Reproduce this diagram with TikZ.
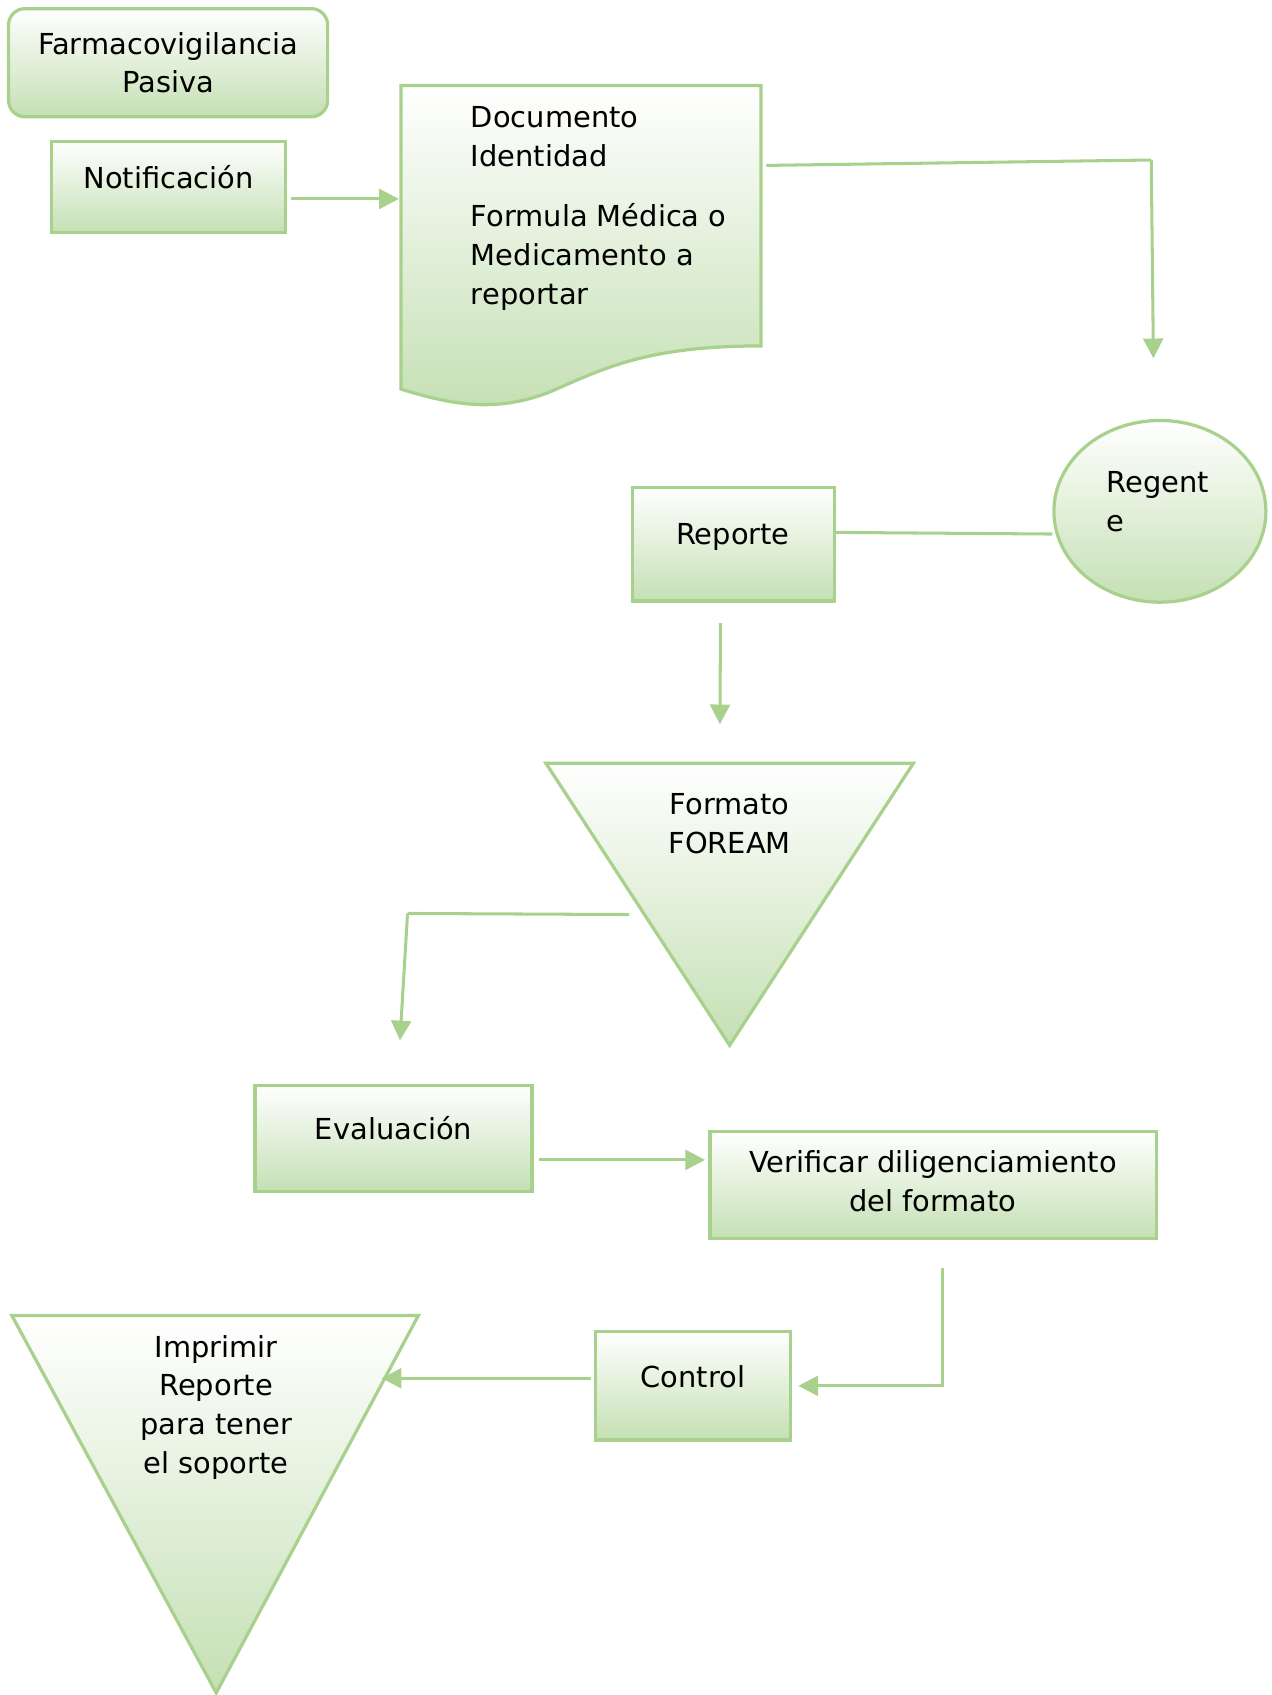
\documentclass[tikz,border=0pt]{standalone}
\usepackage{fontspec}
\setmainfont{DejaVu Sans}
\usetikzlibrary{positioning}
\usetikzlibrary{shapes.geometric, arrows.meta, positioning}
\definecolor{gline}{HTML}{A9D18E}
\definecolor{gfill}{HTML}{C5E0B4}
\tikzstyle{box} = [draw=gline, line width=0.85pt, top color=white, bottom color=gfill, inner sep=0pt]
\tikzstyle{arrow} = [draw=gline, line width=0.8pt, -{Triangle[length=5.2pt,width=5.2pt]}]
\tikzstyle{line} = [draw=gline, line width=0.8pt]
\tikzstyle{txt} = [align=center, inner sep=0pt, font=\fontsize{7.6}{10.24}\selectfont]

\begin{document}
\begin{tikzpicture}[x=0.01cm, y=-0.01cm]
    \useasboundingbox (0,0) rectangle (1176,1568);

    % Nodes (boxes)
    \node[box, txt, rounded corners=4.3pt, minimum width=2.95cm, minimum height=1cm] (farm) at (155.5,58) {Farmacovigilancia\\Pasiva};
    \node[box, minimum width=2.16cm, minimum height=0.84cm] (notif) at (156,173) {};
    \node[txt] (notiftxt) at (156,164) {Notificación};

    \coordinate (docNW) at (371,79);
    \coordinate (docNE) at (704,79);
    \path[box] (docNW) -- (docNE) -- (704,320) .. controls (600,320) and (560,340) .. (510,362)
        .. controls (460,382) and (420,375) .. (371,360) -- cycle;
    \node[txt, align=left, anchor=north west] (doctxt) at (435,98) {Documento\\Identidad\\[0.19cm]Formula Médica o\\Medicamento a\\reportar};

    \node[box, ellipse, minimum width=1.96cm, minimum height=1.68cm] (reg) at (1073,473) {};
    \node[txt, align=left, anchor=north west] (regtxt) at (1023,435) {Regent\\e};

    \node[box, minimum width=1.87cm, minimum height=1.05cm] (rep) at (678.5,503.5) {};
    \node[txt] (reptxt) at (678,497) {Reporte};

    \coordinate (fmtNW) at (505,706);
    \coordinate (fmtNE) at (845,706);
    \coordinate (fmtS) at (675,967);
    \coordinate (fmtN) at (675,706);
    \path[box] (fmtNW) -- (fmtNE) -- (fmtS) -- cycle;
    \node[txt] (fmttxt) at (675,762) {Formato\\FOREAM};

    \node[box, minimum width=2.56cm, minimum height=0.98cm] (eval) at (364,1053) {};
    \node[txt] (evaltxt) at (364,1044) {Evaluación};

    \node[box, minimum width=4.13cm, minimum height=0.99cm] (ver) at (863.5,1096.5) {};
    \node[txt] (vertxt) at (863,1093) {Verificar diligenciamiento\\del formato};

    \node[box, minimum width=1.8cm, minimum height=1cm] (ctl) at (641,1282) {};
    \node[txt] (ctltxt) at (641,1274) {Control};

    \coordinate (imprNW) at (11,1217);
    \coordinate (imprNE) at (387,1217);
    \coordinate (imprS) at (200,1566);
    \path[box] (imprNW) -- (imprNE) -- (imprS) -- cycle;
    \node[txt] (imprtxt) at (200,1302) {Imprimir\\Reporte\\para tener\\el soporte};

    % Edges (connectors)
    \coordinate (turn1) at (1065,148);
    \coordinate (turn2) at (377,845);
    \draw[arrow] ([shift={(4,11)}]notif.east) -- ([shift={(-2,11)}]notif.east -| docNW);
    \draw[line] ([shift={(5,74)}]docNE) -- (turn1);
    \draw[arrow] (turn1) -- ([shift={(-6,-56)}]reg.north);
    \draw[line] ([shift={(0,-11)}]rep.east) -- ([shift={(0,21)}]reg.west);
    \draw[arrow] ([shift={(-12,19)}]rep.south) -- ([shift={(-9,-36)}]fmtN);
    \draw[line] ([shift={(-93,140)}]fmtN) -- (turn2);
    \draw[arrow] (turn2) -- ([shift={(6,-40)}]eval.north);
    \draw[arrow] ([shift={(5,20)}]eval.east) -- ([shift={(-3,20)}]eval.east -| ver.west);
    \draw[arrow] ([shift={(8,25)}]ver.south) |- ([shift={(6,0)}]ctl.east);
    \draw[arrow] ([shift={(-3,-7)}]ctl.west) -- ([shift={(-3,-7)}]ctl.west -| 356,0);
\end{tikzpicture}
\end{document}
